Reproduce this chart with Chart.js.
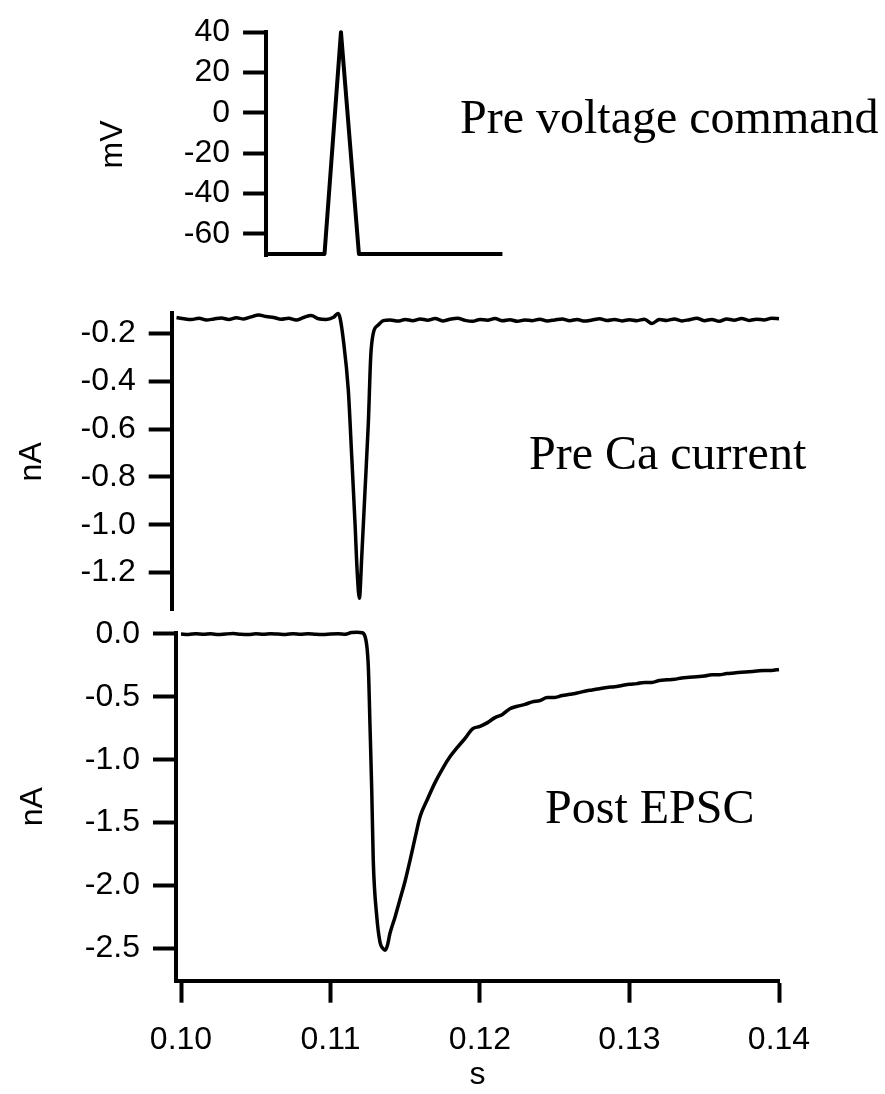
<!DOCTYPE html>
<html>
<head>
<meta charset="utf-8">
<script src="https://cdn.jsdelivr.net/npm/chart.js@4.4.1/dist/chart.umd.min.js"></script>
<style>
  html, body { margin: 0; padding: 0; background: #fff; }
  #page { position: relative; width: 885px; height: 1094px; overflow: hidden; }
  canvas { position: absolute; left: 0; top: 0; }
  .panel-label {
    position: absolute;
    font-family: "Liberation Serif", "Times New Roman", serif;
    font-size: 48px;
    line-height: 48px;
    color: #000;
    white-space: nowrap;
  }
</style>
</head>
<body>
<div id="page">
  <canvas id="chart-voltage" width="885" height="1094"></canvas>
  <canvas id="chart-ca" width="885" height="1094"></canvas>
  <canvas id="chart-epsc" width="885" height="1094"></canvas>
  <div class="panel-label" style="left:460px; top:93px;">Pre voltage command</div>
  <div class="panel-label" style="left:529px; top:429px;">Pre Ca current</div>
  <div class="panel-label" style="left:545px; top:783px;">Post EPSC</div>
</div>
<script>
// time axis ticks (s)
const timeTicks = [0.10, 0.11, 0.12, 0.13, 0.14];

// pre voltage command (mV)
const voltageTime = [0.1058, 0.1096, 0.1107, 0.1119, 0.1215];
const voltageValues = [-70, -70, 40, -70, -70];
const voltageTicks = [40, 20, 0, -20, -40, -60];

// pre Ca current (nA)
const caTime = [
  0.0997, 0.1002, 0.1007, 0.1012, 0.1017, 0.1022, 0.1027, 0.1032, 0.1037, 0.1042, 0.1047,
  0.1052, 0.1057, 0.1062, 0.1067, 0.1072, 0.1077, 0.1082, 0.1087, 0.1092, 0.1097, 0.1102,
  0.1105, 0.11064, 0.11086, 0.11119, 0.11142, 0.11164, 0.11179, 0.11193, 0.11209, 0.11231,
  0.11253, 0.11269, 0.11286, 0.11320, 0.11353,
  0.1140, 0.1145, 0.1150, 0.1155, 0.1160, 0.1165, 0.1170, 0.1175, 0.1180, 0.1185, 0.1190,
  0.1195, 0.1200, 0.1205, 0.1210, 0.1215, 0.1220, 0.1225, 0.1230, 0.1235, 0.1240, 0.1245,
  0.1250, 0.1255, 0.1260, 0.1265, 0.1270, 0.1275, 0.1280, 0.1285, 0.1290, 0.1295, 0.1300,
  0.1305, 0.1310, 0.1315, 0.1320, 0.1325, 0.1330, 0.1335, 0.1340, 0.1345, 0.1350, 0.1355,
  0.1360, 0.1365, 0.1370, 0.1375, 0.1380, 0.1385, 0.1390, 0.1395, 0.1400
];
const caCurrent = [
  -0.133, -0.138, -0.141, -0.136, -0.143, -0.139, -0.135, -0.141, -0.134, -0.139, -0.130,
  -0.122, -0.129, -0.133, -0.140, -0.136, -0.143, -0.133, -0.124, -0.138, -0.141, -0.132,
  -0.116, -0.135, -0.227, -0.436, -0.715, -0.994, -1.203, -1.308, -1.134, -0.855,
  -0.576, -0.297, -0.199, -0.164, -0.146,
  -0.143, -0.148, -0.141, -0.146, -0.139, -0.144, -0.137, -0.147, -0.140, -0.136, -0.145,
  -0.149, -0.141, -0.144, -0.137, -0.146, -0.142, -0.149, -0.143, -0.146, -0.140, -0.147,
  -0.143, -0.139, -0.146, -0.141, -0.148, -0.143, -0.138, -0.145, -0.141, -0.147, -0.142,
  -0.146, -0.140, -0.158, -0.141, -0.145, -0.139, -0.147, -0.142, -0.136, -0.146, -0.141,
  -0.149, -0.139, -0.144, -0.137, -0.145, -0.140, -0.143, -0.136, -0.138
];
const caTicks = [-0.2, -0.4, -0.6, -0.8, -1.0, -1.2];

// post EPSC (nA)
const epscTime = [
  0.1000, 0.1005, 0.1010, 0.1015, 0.1020, 0.1025, 0.1030, 0.1035, 0.1040, 0.1045, 0.1050,
  0.1055, 0.1060, 0.1065, 0.1070, 0.1075, 0.1080, 0.1085, 0.1090, 0.1095, 0.1100, 0.1105,
  0.1110, 0.1114, 0.1118, 0.1121,
  0.11231, 0.11253, 0.11264, 0.11276, 0.11286, 0.11309, 0.11331, 0.11350, 0.11365, 0.11380,
  0.11398, 0.11432, 0.11465, 0.11500, 0.11532, 0.11566,
  0.1160, 0.1165, 0.1170, 0.1175, 0.1180, 0.1185, 0.1190, 0.1195, 0.1200, 0.1205, 0.1210,
  0.1215, 0.1220, 0.1225, 0.1230, 0.1235, 0.1240, 0.1245, 0.1250, 0.1255, 0.1260, 0.1265,
  0.1270, 0.1275, 0.1280, 0.1285, 0.1290, 0.1295, 0.1300, 0.1305, 0.1310, 0.1315, 0.1320,
  0.1325, 0.1330, 0.1335, 0.1340, 0.1345, 0.1350, 0.1355, 0.1360, 0.1365, 0.1370, 0.1375,
  0.1380, 0.1385, 0.1390, 0.1395, 0.1400
];
const epscCurrent = [
  0.000, -0.004, 0.002, -0.003, 0.001, -0.005, 0.000, 0.003, -0.002, -0.004, 0.001,
  -0.003, 0.002, -0.001, -0.004, 0.002, -0.002, 0.001, -0.003, -0.005, 0.000, 0.002,
  -0.002, 0.012, 0.014, 0.010,
  -0.02, -0.26, -0.72, -1.25, -1.80, -2.24, -2.45, -2.50, -2.515, -2.48,
  -2.38, -2.25, -2.11, -1.96, -1.80, -1.62,
  -1.45, -1.31, -1.18, -1.07, -0.975, -0.90, -0.83, -0.755, -0.735, -0.705, -0.665,
  -0.64, -0.595, -0.575, -0.560, -0.540, -0.530, -0.505, -0.505, -0.490, -0.480, -0.470,
  -0.455, -0.445, -0.435, -0.425, -0.420, -0.410, -0.400, -0.395, -0.385, -0.385, -0.370,
  -0.365, -0.360, -0.350, -0.345, -0.340, -0.335, -0.325, -0.325, -0.315, -0.310, -0.305,
  -0.300, -0.295, -0.290, -0.290, -0.282
];
const epscTicks = [0.0, -0.5, -1.0, -1.5, -2.0, -2.5];

// page layout: all three panels share one time scale
const PAGE_W = 885;
const PAGE_H = 1094;
const PX_AT_0_10 = 181;
const PX_PER_SEC = 14950;
const AXIS_W = 4;
const TICK_FONT = { family: "'Liberation Sans', Arial, sans-serif", size: 32 };

function timeToPx(t) {
  return PX_AT_0_10 + (t - 0.10) * PX_PER_SEC;
}

function toPoints(xs, ys) {
  return xs.map((x, i) => ({ x: x, y: ys[i] }));
}

function yAxis(p) {
  return {
    min: p.yMin,
    max: p.yMax,
    afterFit: scale => { scale.width = timeToPx(p.xMin); },
    afterBuildTicks: scale => { scale.ticks = p.ticks.map(v => ({ value: v })); },
    border: { display: true, color: "#000", width: AXIS_W },
    grid: { display: true, drawOnChartArea: false, drawTicks: true, tickLength: 23, tickWidth: AXIS_W, tickColor: "#000" },
    ticks: { color: "#000", font: TICK_FONT, padding: 13, callback: p.format },
    title: { display: true, text: p.unit, color: "#000", font: TICK_FONT, padding: { top: p.titlePad, bottom: 0 } }
  };
}

function drawPanel(id, p) {
  const right = timeToPx(p.xMax);
  const xScale = p.showTime ? {
    type: "linear",
    min: p.xMin,
    max: p.xMax,
    afterFit: scale => { scale.height = PAGE_H - p.bottom; },
    afterBuildTicks: scale => { scale.ticks = timeTicks.map(v => ({ value: v })); },
    border: { display: true, color: "#000", width: AXIS_W },
    grid: { display: true, drawOnChartArea: false, drawTicks: true, tickLength: 22, tickWidth: AXIS_W, tickColor: "#000" },
    ticks: { color: "#000", font: TICK_FONT, padding: 18, maxRotation: 0, autoSkip: false, callback: v => v.toFixed(2) },
    title: { display: true, text: "s", color: "#000", font: TICK_FONT, padding: { top: 0, bottom: 0 } }
  } : { type: "linear", min: p.xMin, max: p.xMax, display: false };

  new Chart(document.getElementById(id), {
    type: "line",
    data: {
      datasets: [{
        data: toPoints(p.xs, p.ys),
        borderColor: "#000",
        borderWidth: p.lineWidth,
        borderJoinStyle: "round",
        pointRadius: 0,
        cubicInterpolationMode: p.smooth ? "monotone" : "default",
        tension: 0,
        clip: false
      }]
    },
    options: {
      responsive: false,
      animation: false,
      events: [],
      layout: {
        padding: { left: 0, top: p.top, right: PAGE_W - right, bottom: p.showTime ? 0 : PAGE_H - p.bottom }
      },
      plugins: { legend: { display: false }, tooltip: { enabled: false } },
      scales: { x: xScale, y: yAxis(p) }
    }
  });
}

drawPanel("chart-voltage", {
  xs: voltageTime, ys: voltageValues, ticks: voltageTicks, unit: "mV",
  xMin: 0.10569, xMax: 0.1216, yMin: -71.4, yMax: 40,
  top: 20.7, bottom: 256.7, titlePad: 94, lineWidth: 4, smooth: false,
  format: v => String(v), showTime: false
});

drawPanel("chart-ca", {
  xs: caTime, ys: caCurrent, ticks: caTicks, unit: "nA",
  xMin: 0.099378, xMax: 0.14, yMin: -1.36, yMax: -0.114,
  top: 313, bottom: 610.7, titlePad: 13, lineWidth: 3.5, smooth: true,
  format: v => v.toFixed(1), showTime: false
});

drawPanel("chart-epsc", {
  xs: epscTime, ys: epscCurrent, ticks: epscTicks, unit: "nA",
  xMin: 0.099666, xMax: 0.14, yMin: -2.757, yMax: 0.01,
  top: 632.7, bottom: 980.7, titlePad: 14, lineWidth: 3.5, smooth: true,
  format: v => v.toFixed(1), showTime: true
});
</script>
</body>
</html>
